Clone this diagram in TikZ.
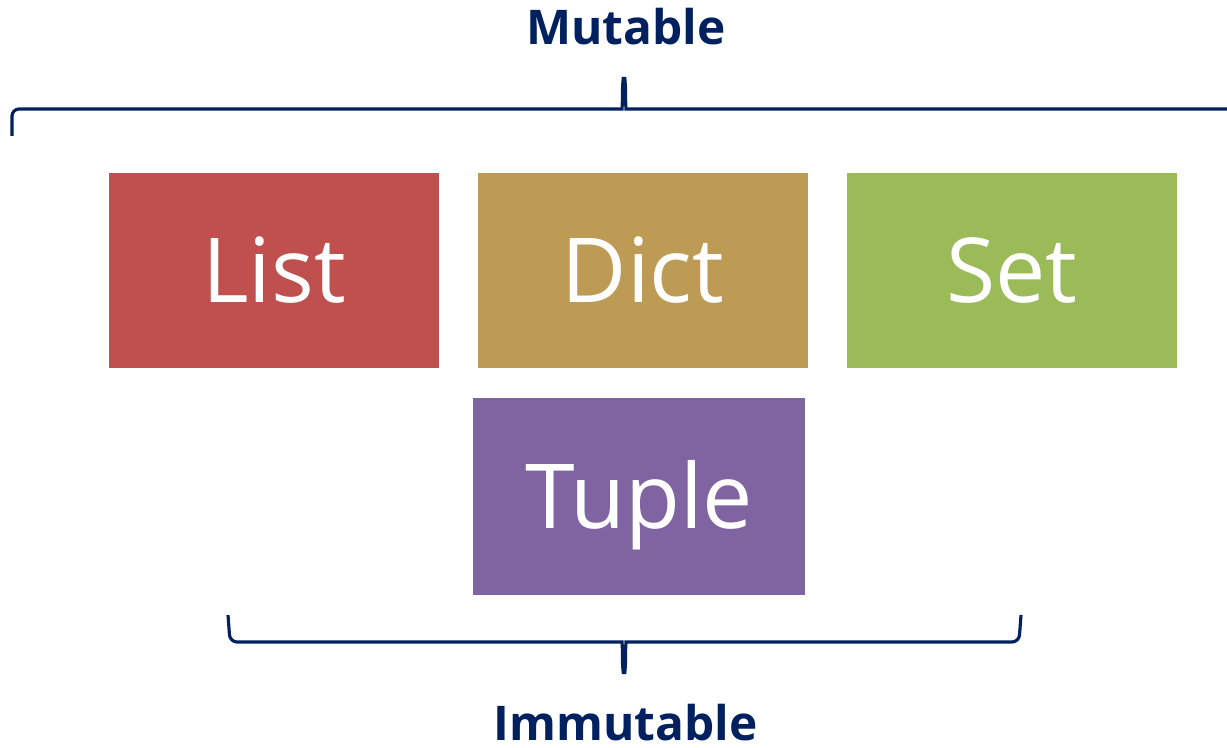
\documentclass[tikz,border=0pt]{standalone}
\usepackage{fontspec}
\setmainfont{Open Sans}
\usepackage{tikz}
\definecolor{navy}{HTML}{002060}
\definecolor{listred}{HTML}{C0504D}
\definecolor{dicttan}{HTML}{BE9B54}
\definecolor{setgreen}{HTML}{9BBB59}
\definecolor{tuplepurple}{HTML}{8064A2}
\begin{document}
\begin{tikzpicture}
\useasboundingbox (0,0) rectangle (12.27,7.48);
\tikzstyle{box}=[rectangle,minimum width=3.3cm,minimum height=1.95cm,inner sep=0pt,text=white,font=\fontsize{25.5}{25.5}\selectfont,text height=0.65cm,text depth=0pt]
\tikzstyle{brace}=[draw=navy,line width=0.9pt,rounded corners=2pt]
\tikzstyle{group}=[text=navy,font=\fontsize{13.6}{13.6}\selectfont\bfseries,anchor=base]
\foreach \name/\point/\col/\word in {
	list/{2.74,4.775}/listred/List,
	dict/{6.43,4.775}/dicttan/Dict,
	set/{10.12,4.775}/setgreen/Set}
	\node[box,fill=\col] (\name) at (\point) {\word};
\node[box,fill=tuplepurple,minimum width=3.32cm,minimum height=1.97cm] (tuple) at (6.39,2.515) {Tuple};
% braces
\draw[brace] (0.12,6.12) -- (0.12,6.39) -- (6.15,6.39)
	.. controls (6.22,6.39) and (6.225,6.45) .. (6.225,6.64)
	.. controls (6.23,6.68) and (6.25,6.68) .. (6.255,6.64)
	.. controls (6.255,6.45) and (6.26,6.39) .. (6.33,6.39) -- (12.4,6.39);
\draw[brace] (2.28,1.33) -- (2.30,1.06) -- (6.15,1.06)
	.. controls (6.22,1.06) and (6.225,1.00) .. (6.225,0.81)
	.. controls (6.23,0.77) and (6.25,0.77) .. (6.255,0.81)
	.. controls (6.255,1.00) and (6.26,1.06) .. (6.33,1.06) -- (10.19,1.06) -- (10.21,1.33);
\node[group] (mutable) at (6.26,7.03) {Mutable};
\node[group] (immutable) at (6.255,0.07) {Immutable};
\end{tikzpicture}
\end{document}
